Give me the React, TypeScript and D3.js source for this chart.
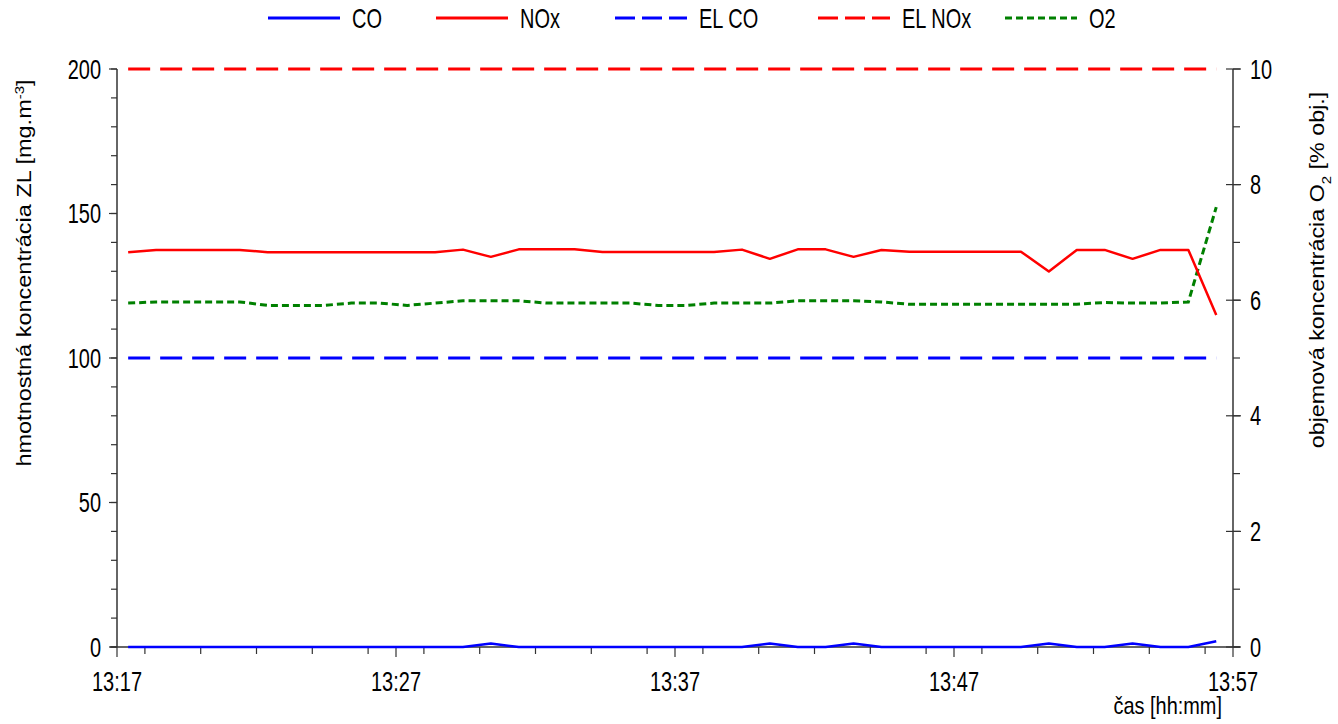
import React from "react";
import * as d3 from "d3";

const times = [
  "13:17:24","13:18:24","13:19:24","13:20:24","13:21:24","13:22:24","13:23:24","13:24:24","13:25:24","13:26:24",
  "13:27:24","13:28:24","13:29:24","13:30:24","13:31:24","13:32:24","13:33:24","13:34:24","13:35:24","13:36:24",
  "13:37:24","13:38:24","13:39:24","13:40:24","13:41:24","13:42:24","13:43:24","13:44:24","13:45:24","13:46:24",
  "13:47:24","13:48:24","13:49:24","13:50:24","13:51:24","13:52:24","13:53:24","13:54:24","13:55:24","13:56:24",
];

const coValues = [
  0, 0, 0, 0, 0, 0, 0, 0, 0, 0,
  0, 0, 0, 1.2, 0, 0, 0, 0, 0, 0,
  0, 0, 0, 1.2, 0, 0, 1.2, 0, 0, 0,
  0, 0, 0, 1.2, 0, 0, 1.2, 0, 0, 2.0,
];

const noxValues = [
  136.6, 137.4, 137.4, 137.4, 137.4, 136.6, 136.6, 136.6, 136.6, 136.6,
  136.6, 136.6, 137.5, 135.0, 137.6, 137.6, 137.6, 136.7, 136.7, 136.7,
  136.7, 136.7, 137.5, 134.3, 137.6, 137.6, 135.0, 137.4, 136.8, 136.8,
  136.8, 136.8, 136.8, 129.9, 137.4, 137.4, 134.3, 137.4, 137.4, 114.9,
];

const o2Values = [
  5.95, 5.97, 5.97, 5.97, 5.97, 5.91, 5.91, 5.91, 5.95, 5.95,
  5.91, 5.95, 5.99, 5.99, 5.99, 5.95, 5.95, 5.95, 5.95, 5.91,
  5.91, 5.95, 5.95, 5.95, 5.99, 5.99, 5.99, 5.97, 5.93, 5.93,
  5.93, 5.93, 5.93, 5.93, 5.93, 5.96, 5.95, 5.95, 5.97, 7.61,
];

const elCO = 100;
const elNOx = 200;

const leftTicks = [0, 50, 100, 150, 200];
const rightTicks = [0, 2, 4, 6, 8, 10];
const xTickLabels = ["13:17", "13:27", "13:37", "13:47", "13:57"];

const legendItems = [
  { name: "CO", color: "#0000ff", dash: "none", x: 268 },
  { name: "NOx", color: "#ff0000", dash: "none", x: 436 },
  { name: "EL CO", color: "#0000ff", dash: "20 7", x: 615 },
  { name: "EL NOx", color: "#ff0000", dash: "20 7", x: 818 },
  { name: "O2", color: "#008000", dash: "7 4", x: 1005 },
];

const parse = d3.timeParse("%H:%M:%S");
const parseHM = d3.timeParse("%H:%M");

const FONT = "'Liberation Sans', Arial, sans-serif";
const SX = 0.74;
const FS = 27;

function NText(props: { x: number; y: number; anchor?: string; children: React.ReactNode; size?: number; sx?: number }) {
  const { x, y, anchor = "start", children, size = FS, sx = SX } = props;
  return (
    <text transform={`translate(${x},${y}) scale(${sx},1)`} textAnchor={anchor} fontSize={size} fill="#000">
      {children}
    </text>
  );
}

export default function App() {
  const W = 1338, H = 724;
  const left = 117, right = 1233, top = 69, bottom = 647;

  const x = d3.scaleTime()
    .domain([parseHM("13:17")!, parseHM("13:57")!])
    .range([left, right]);
  const yL = d3.scaleLinear().domain([0, 200]).range([bottom, top]);
  const yR = d3.scaleLinear().domain([0, 10]).range([bottom, top]);

  const dates = times.map((t) => parse(t)!);

  const lineL = d3.line<number>()
    .x((_, i) => x(dates[i]))
    .y((d) => yL(d));
  const lineR = d3.line<number>()
    .x((_, i) => x(dates[i]))
    .y((d) => yR(d));

  const x0 = x(dates[0]);
  const x1 = x(dates[dates.length - 1]);

  const leftMinor = d3.range(0, 201, 10);
  const rightMinor = d3.range(0, 11, 1);
  const xMinor = d3.timeMinute.every(2)!.range(parseHM("13:17")!, d3.timeMinute.offset(parseHM("13:57")!, 1));
  const xMajor = xTickLabels.map((t) => parseHM(t)!);

  const axisColor = "#333";

  return (
    <svg width={W} height={H} style={{ position: "absolute", left: 0, top: 0, background: "#fff" }} fontFamily={FONT}>
      {/* legend */}
      {legendItems.map((it) => (
        <g key={it.name}>
          <line x1={it.x} x2={it.x + 72} y1={18} y2={18} stroke={it.color} strokeWidth={3} strokeDasharray={it.dash} />
          <NText x={it.x + 84} y={28}>{it.name}</NText>
        </g>
      ))}

      {/* data lines */}
      <line x1={x0} x2={x1} y1={yL(elNOx)} y2={yL(elNOx)} stroke="#ff0000" strokeWidth={3} strokeDasharray="22 10" />
      <line x1={x0} x2={x1} y1={yL(elCO)} y2={yL(elCO)} stroke="#0000ff" strokeWidth={3} strokeDasharray="22 10" />
      <path d={lineR(o2Values)!} fill="none" stroke="#008000" strokeWidth={3} strokeDasharray="7 4" />
      <path d={lineL(noxValues)!} fill="none" stroke="#ff0000" strokeWidth={2.5} strokeLinejoin="round" />

      {/* axes */}
      <line x1={left - 7} x2={right + 7} y1={bottom} y2={bottom} stroke={axisColor} strokeWidth={1.5} />
      <line x1={left} x2={left} y1={top} y2={bottom} stroke={axisColor} strokeWidth={1.5} />
      <line x1={right} x2={right} y1={top} y2={bottom} stroke={axisColor} strokeWidth={1.5} />

      {leftMinor.map((v) => (
        <line key={"lm" + v} x1={left - 6} x2={left} y1={yL(v)} y2={yL(v)} stroke={axisColor} strokeWidth={1.2} />
      ))}
      {leftTicks.map((v) => (
        <g key={"lt" + v}>
          <line x1={left - 8} x2={left} y1={yL(v)} y2={yL(v)} stroke={axisColor} strokeWidth={1.2} />
          <NText x={left - 16} y={yL(v) + 9.5} anchor="end">{v}</NText>
        </g>
      ))}

      {rightMinor.map((v) => (
        <line key={"rm" + v} x1={right} x2={right + 7} y1={yR(v)} y2={yR(v)} stroke={axisColor} strokeWidth={1.2} />
      ))}
      {rightTicks.map((v) => (
        <g key={"rt" + v}>
          <line x1={right - 7} x2={right + 8} y1={yR(v)} y2={yR(v)} stroke={axisColor} strokeWidth={1.2} />
          <NText x={right + 17} y={yR(v) + 9.5}>{v}</NText>
        </g>
      ))}

      {xMinor.map((d, i) => (
        <line key={"xm" + i} x1={x(d)} x2={x(d)} y1={bottom} y2={bottom + 7} stroke={axisColor} strokeWidth={1.2} />
      ))}
      {xMajor.map((d, i) => (
        <g key={"xt" + i}>
          <line x1={x(d)} x2={x(d)} y1={bottom} y2={bottom + 10} stroke={axisColor} strokeWidth={1.2} />
          <NText x={x(d)} y={691} anchor="middle">{xTickLabels[i]}</NText>
        </g>
      ))}

      {/* CO line on top */}
      <path d={lineL(coValues)!} fill="none" stroke="#0000ff" strokeWidth={2.5} strokeLinejoin="round" />

      {/* axis titles */}
      <text transform={`translate(31,273) rotate(-90) scale(1,0.85)`} textAnchor="middle" fontSize={23.5} fill="#000">
        hmotnostná koncentrácia ZL [mg.m<tspan baselineShift="super" fontSize={15}>-3</tspan>]
      </text>
      <text transform={`translate(1324,270) rotate(-90) scale(1,0.85)`} textAnchor="middle" fontSize={23.3} fill="#000">
        objemová koncentrácia O<tspan baselineShift="sub" fontSize={15}>2</tspan> [% obj.]
      </text>
      <NText x={1222} y={714} anchor="end" size={24} sx={0.83}>čas [hh:mm]</NText>
    </svg>
  );
}
